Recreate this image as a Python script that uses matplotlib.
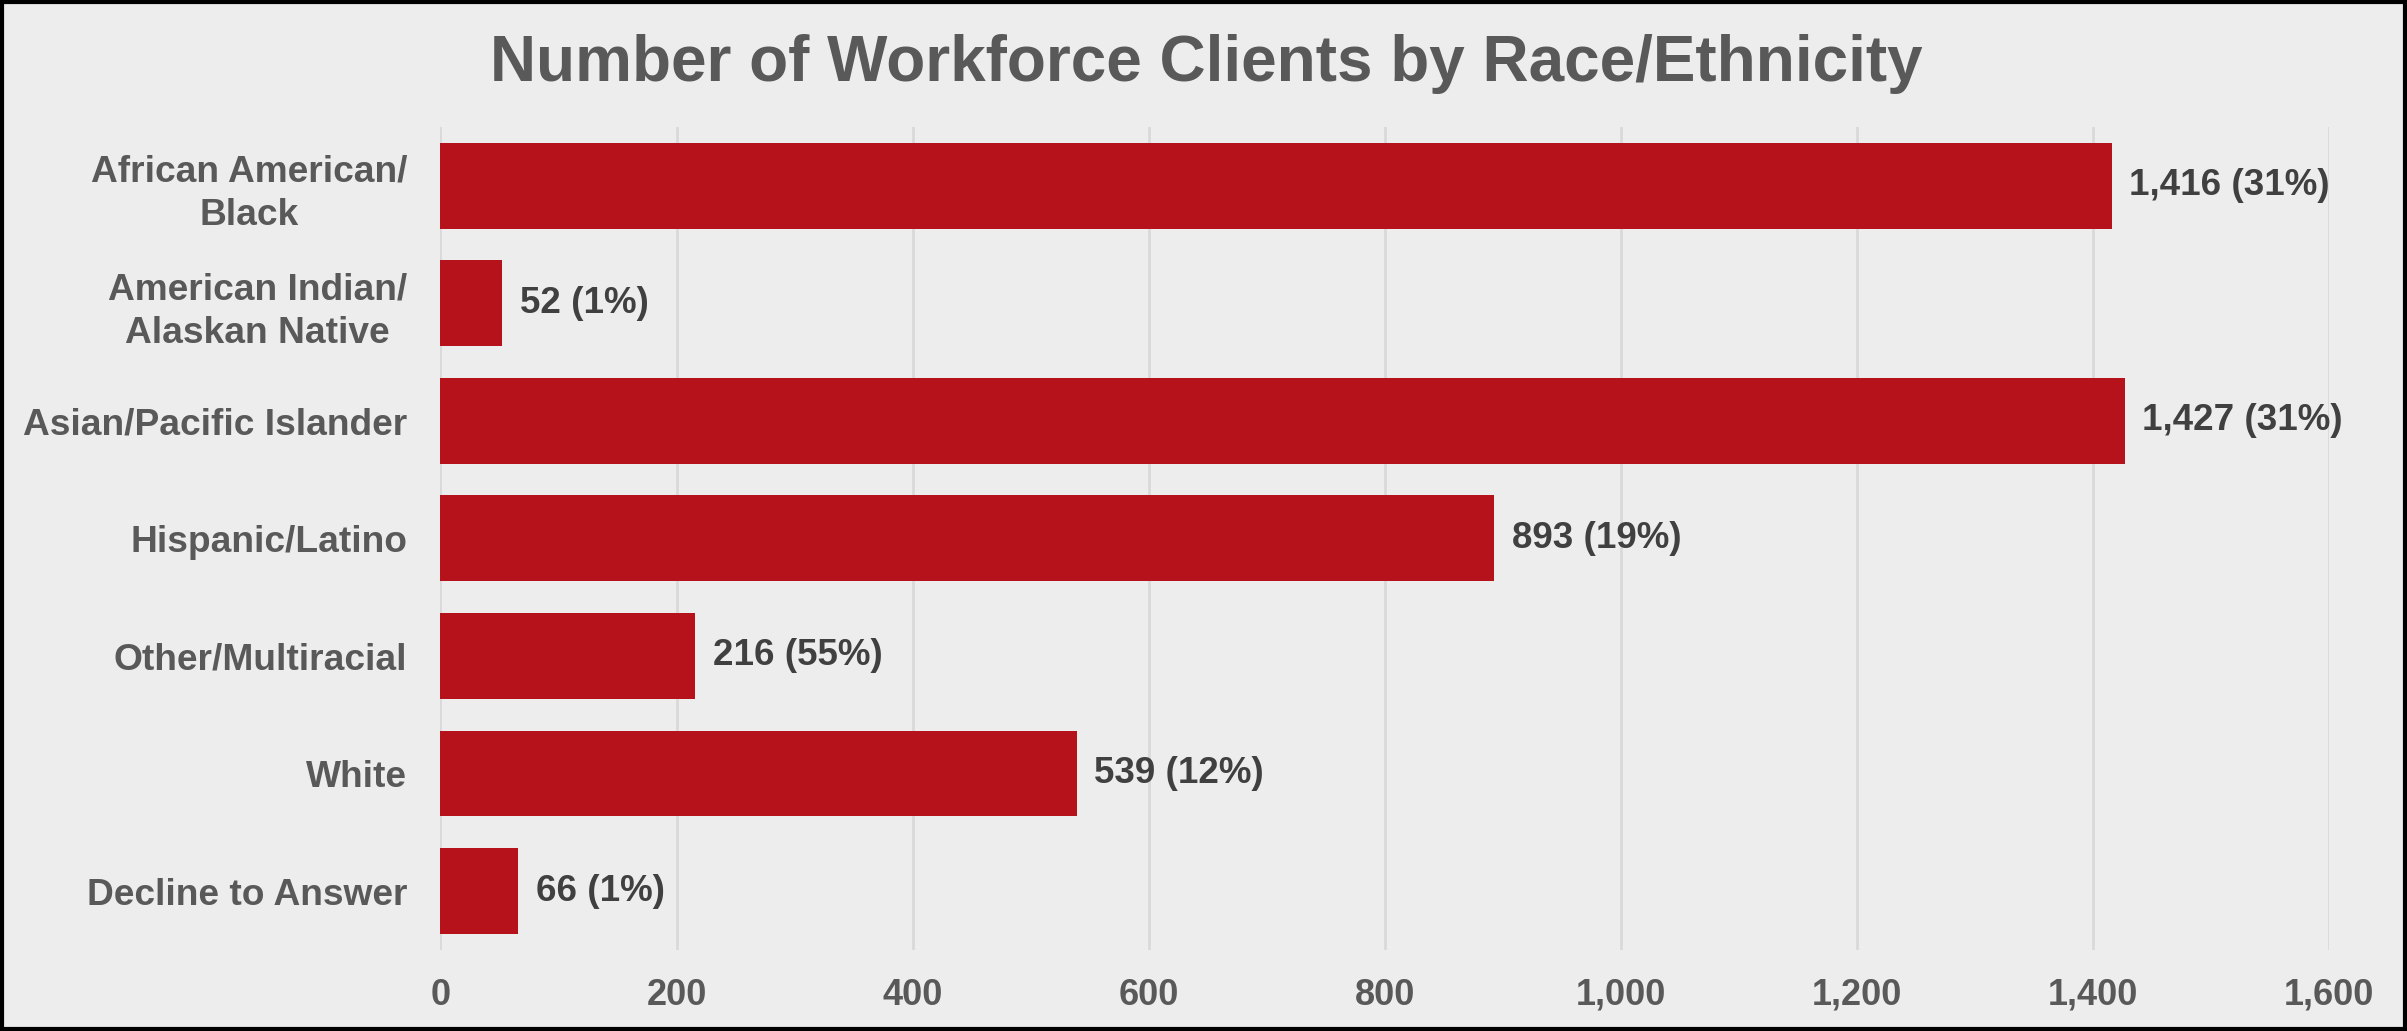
import matplotlib
matplotlib.use("Agg")
import matplotlib.pyplot as plt
from matplotlib.patches import Rectangle
from matplotlib import font_manager

categories = ["African American/\nBlack", "American Indian/\nAlaskan Native",
              "Asian/Pacific Islander", "Hispanic/Latino", "Other/Multiracial",
              "White", "Decline to Answer"]
values = [1416, 52, 1427, 893, 216, 539, 66]
pct_labels = ["31%", "1%", "31%", "19%", "55%", "12%", "1%"]
xticks = [0, 200, 400, 600, 800, 1000, 1200, 1400, 1600]
title = "Number of Workforce Clients by Race/Ethnicity"

names = {f.name for f in font_manager.fontManager.ttflist}
narrow = "Liberation Sans Narrow" if "Liberation Sans Narrow" in names else "Liberation Sans"
regular = "Liberation Sans"

bg = "#EDEDED"
bar_color = "#B5121B"
label_gray = "#595959"
data_gray = "#404040"

fig = plt.figure(figsize=(24.07, 10.31), dpi=100, facecolor=bg)
ax = fig.add_axes([0.183, 0.0786, 0.9675 - 0.183, 0.877 - 0.0786])
ax.set_facecolor(bg)

y = list(range(len(categories)))
ax.barh(y, values, height=0.73, color=bar_color, zorder=3)
ax.set_ylim(len(categories) - 0.5, -0.5)
ax.set_xlim(0, 1600)

ax.set_xticks(xticks)
ax.set_xticklabels([f"{t:,}" for t in xticks], family=narrow, fontweight="bold",
                   fontsize=26, color=label_gray)
ax.set_yticks(y)
ax.set_yticklabels(categories, family=regular, fontweight="bold", fontsize=26.7,
                   color=label_gray, multialignment="center", linespacing=1.32)
ax.tick_params(axis="x", length=0, pad=20)
ax.tick_params(axis="y", length=0, pad=24)

ax.grid(axis="x", color="#D9D9D9", linewidth=2, zorder=0)
ax.set_axisbelow(True)
for s in ax.spines.values():
    s.set_visible(False)

for yi, v, p in zip(y, values, pct_labels):
    ax.text(v + 15, yi, f"{v:,} ({p})", va="center", ha="left", family=regular,
            fontweight="bold", fontsize=26.5, color=data_gray, zorder=4)

fig.text(0.501, 0.938, title, ha="center", va="center", family=narrow,
         fontweight="bold", fontsize=46, color=label_gray)

fig.patches.append(Rectangle((0.0008, 0.0015), 0.9984, 0.997, transform=fig.transFigure,
                             fill=False, edgecolor="black", linewidth=3))

fig.savefig("out.png", dpi=100, facecolor=bg)
